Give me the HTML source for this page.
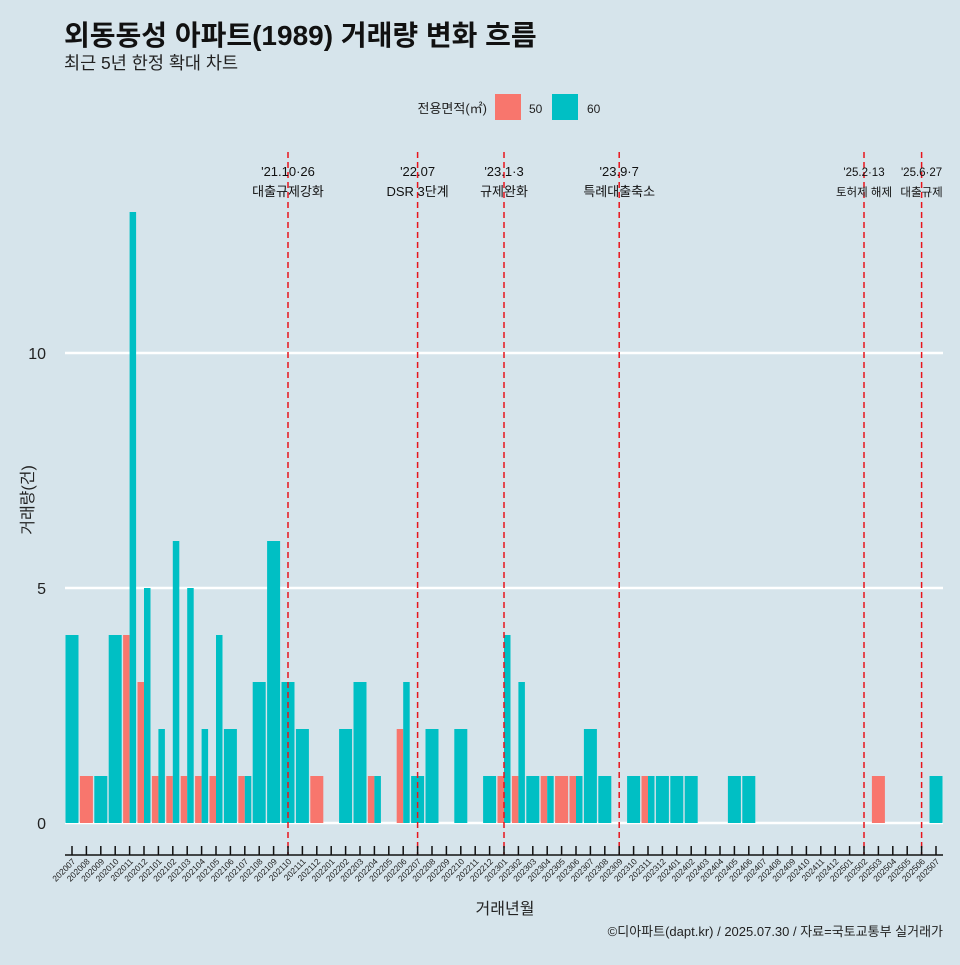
<!DOCTYPE html>
<html><head><meta charset="utf-8"><style>
html,body{margin:0;padding:0;background:#d6e4eb;}
body{width:960px;height:960px;overflow:hidden;font-family:"Liberation Sans","Noto Sans CJK KR",sans-serif;}
</style></head><body>
<svg id="chart" width="960" height="960" xmlns="http://www.w3.org/2000/svg" font-family="Liberation Sans, Noto Sans CJK KR, sans-serif">
<rect width="960" height="960" fill="#d6e4eb"/>
<text x="64" y="45" font-size="28" font-weight="bold" fill="#111">외동동성 아파트(1989) 거래량 변화 흐름</text>
<text x="64" y="69" font-size="17.5" fill="#222">최근 5년 한정 확대 차트</text>
<g>
<text x="487" y="113" font-size="13" text-anchor="end" fill="#222">전용면적(㎡)</text>
<rect x="495" y="94" width="26" height="26" fill="#f8766d"/>
<text x="529" y="113" font-size="12" fill="#222">50</text>
<rect x="552" y="94" width="26" height="26" fill="#00bfc4"/>
<text x="587" y="113" font-size="12" fill="#222">60</text>
</g>
<g id="grid"></g>
<g id="bars"></g>
<g id="events"></g>
<g id="axes"></g>
<text transform="translate(33,500) rotate(-90)" font-size="16" text-anchor="middle" fill="#222">거래량(건)</text>
<text x="505" y="914" font-size="16" text-anchor="middle" fill="#222">거래년월</text>
<text x="943" y="936" font-size="13" text-anchor="end" fill="#222">©디아파트(dapt.kr) / 2025.07.30 / 자료=국토교통부 실거래가</text>
</svg>
<script>
const months = ["202007","202008","202009","202010","202011","202012","202101","202102","202103","202104","202105","202106","202107","202108","202109","202110","202111","202112","202201","202202","202203","202204","202205","202206","202207","202208","202209","202210","202211","202212","202301","202302","202303","202304","202305","202306","202307","202308","202309","202310","202311","202312","202401","202402","202403","202404","202405","202406","202407","202408","202409","202410","202411","202412","202501","202502","202503","202504","202505","202506","202507"];
const area50 = [0,1,0,0,4,3,1,1,1,1,1,0,1,0,0,0,0,1,0,0,0,1,0,2,0,0,0,0,0,0,1,1,0,1,1,1,0,0,0,0,1,0,0,0,0,0,0,0,0,0,0,0,0,0,0,0,1,0,0,0,0];
const area60 = [4,0,1,4,13,5,2,6,5,2,4,2,1,3,6,3,2,0,0,2,3,1,0,3,1,2,0,2,0,1,4,3,1,1,0,1,2,1,0,1,1,1,1,1,0,0,1,1,0,0,0,0,0,0,0,0,0,0,0,0,1];
const yTicks = [0,5,10];
const eventMonths = ["202110","202207","202301","202309","202502","202506"];
const eventDates = ["'21.10·26","'22.07","'23.1·3","'23.9·7","'25.2·13","'25.6·27"];
const eventNames = ["대출규제강화","DSR 3단계","규제완화","특례대출축소","토허제 해제","대출규제"];

const NS="http://www.w3.org/2000/svg";
const x0=72, step=14.4, yBase=823, yUnit=47, plotL=65, plotR=943;
const xs = i => x0 + i*step;
const ys = v => yBase - v*yUnit;
function mk(tag, attrs, parent){const e=document.createElementNS(NS,tag);for(const k in attrs)e.setAttribute(k,attrs[k]);parent.appendChild(e);return e;}
const grid=document.getElementById('grid'), bars=document.getElementById('bars'), ev=document.getElementById('events'), axes=document.getElementById('axes');

yTicks.forEach(t=>{
  const l=mk('line',{x1:plotL,x2:plotR,y1:ys(t),y2:ys(t),stroke:'#fff','stroke-width':2.5},grid);
  
  
  const tx=mk('text',{x:46,y:ys(t)+6,'font-size':16,'text-anchor':'end',fill:'#222'},axes);
  tx.textContent=t;
  
  
});

const bw=13;
months.forEach((m,i)=>{
  const a=area50[i], b=area60[i], cx=xs(i);
  const both=a>0&&b>0;
  if(a>0){
    const x=cx-bw/2, w=both?bw/2:bw;
    const r=mk('rect',{x:x,y:ys(a),width:w,height:a*yUnit,fill:'#f8766d'},bars);
    
    
  }
  if(b>0){
    const x=both?cx:cx-bw/2, w=both?bw/2:bw;
    const r=mk('rect',{x:x,y:ys(b),width:w,height:b*yUnit,fill:'#00bfc4'},bars);
    
    
  }
  const tk=mk('line',{x1:cx,x2:cx,y1:846,y2:855,stroke:'#111','stroke-width':1.5},axes);
  
  
  const tl=mk('text',{x:cx+4,y:862,'font-size':8.5,'text-anchor':'end',fill:'#222',transform:`rotate(-45 ${cx+4} 862)`},axes);
  tl.textContent=m;
  
  
});
const ax=mk('line',{x1:plotL,x2:plotR,y1:855,y2:855,stroke:'#111','stroke-width':1.5},axes);



eventMonths.forEach((m,k)=>{
  const cx=xs(months.indexOf(m));
  const l=mk('line',{x1:cx,x2:cx,y1:152,y2:855,stroke:'#e8141c','stroke-width':1.5,'stroke-dasharray':'6,4'},ev);
  
  
  const fs = k>=4?11.5:13;
  const t1=mk('text',{x:cx,y:176,'font-size':fs,'text-anchor':'middle',fill:'#111'},ev);
  t1.textContent=eventDates[k];
  
  
  const t2=mk('text',{x:cx,y:196,'font-size':fs,'text-anchor':'middle',fill:'#111'},ev);
  t2.textContent=eventNames[k];
  
  
});
</script>
</body></html>
